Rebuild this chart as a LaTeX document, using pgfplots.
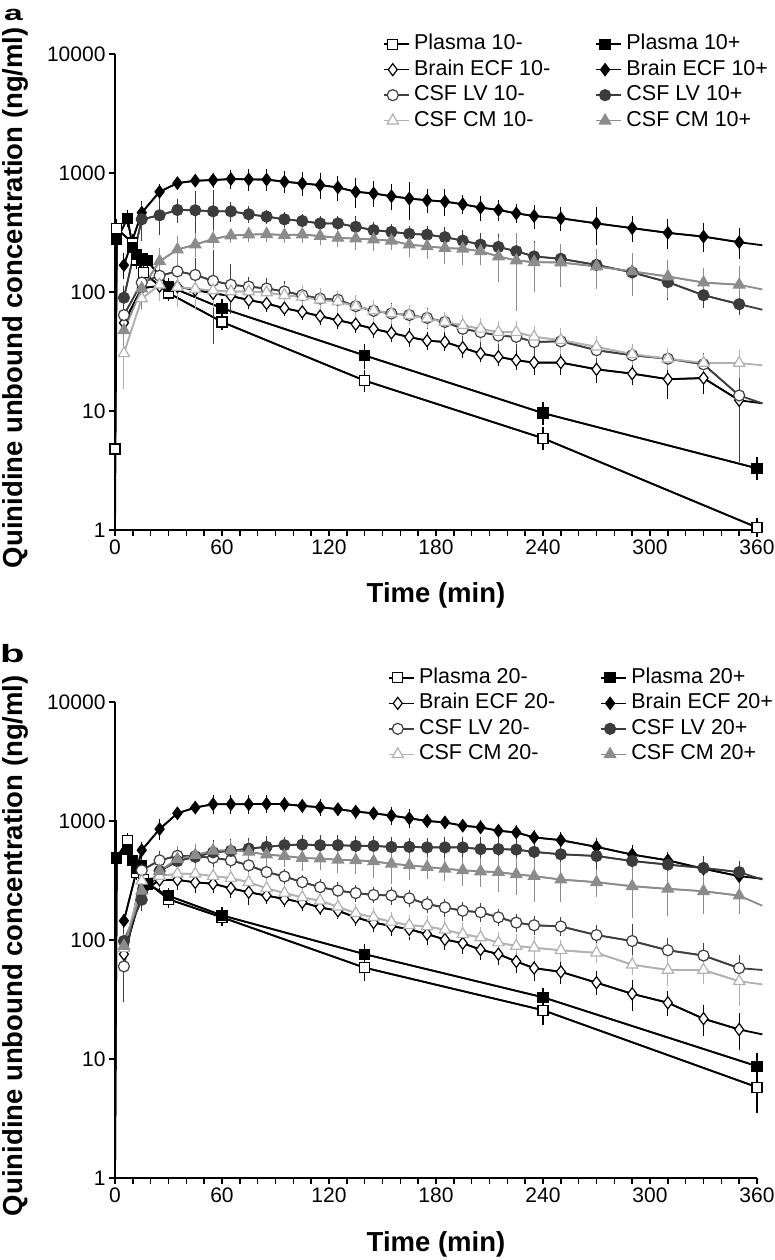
\documentclass[border=0pt]{standalone}
\usepackage{pgfplots}
\usepackage{pgfplotstable}
\pgfplotsset{compat=1.18}
\usepackage{fontspec}
\setmainfont{Liberation Sans}

\definecolor{cLVp}{HTML}{3C3C3C}
\definecolor{cLVm}{HTML}{404040}
\definecolor{cCMp}{HTML}{8C8C8C}
\definecolor{cCMm}{HTML}{B2B2B2}

% ---------------- panel a data ----------------
\pgfplotstableread{
t y e
0 4.8 0.8
1 340 40
10 258 30
12 186 20
16 145 15
30 98 8
60 56 5
140 18 2.5
240 5.9 0.9
360 1.05 0.12
}\PaM
\pgfplotstableread{
t y e
0 1 0
1 275 30
7 415 40
10 236 20
12 205 20
15 190 15
18 183 15
30 112 10
60 73 8
140 29.3 5
240 9.6 1.5
360 3.3 0.5
}\PaP
\pgfplotstableread{
t y e
5 55 10
15 108 15
25 112 15
35 111 12
45 104 10
55 97.5 10
65 92.5 9
75 85.6 8
85 80 7
95 73 6
105 68 6
115 62.6 6
125 58 6
135 53.6 5
145 49 5
155 45.3 5
165 41.8 5
175 39 4
185 38 4
195 34 4
205 30.4 3
215 28.5 3
225 26.7 3
235 25.5 4
250 25.5 4
270 22.4 4
290 20.6 3
310 18.5 5
330 18.9 4
350 12.3 5
363 11.6 0
}\BaM
\pgfplotstableread{
t y e
5 168 30
15 464 80
25 695 60
35 822 50
45 861 50
55 872 70
65 890 100
75 884 130
85 880 120
95 845 120
105 817 130
115 791 150
125 756 130
135 695 150
145 673 120
155 638 120
165 610 180
175 590 100
185 575 110
195 546 60
205 512 90
215 489 70
225 458 50
235 435 70
250 416 70
270 377 110
290 344 60
310 314 70
330 292 60
350 262 60
363 247 0
}\BaP
\pgfplotstableread{
t y e
5 64 20
15 120 25
25 137 20
35 149 60
45 139 40
55 124 85
65 115 45
75 111 15
85 107 15
95 101 15
105 94 12
115 88 10
125 86 10
135 76 12
145 69.5 10
155 66 10
165 64 8
175 60.5 8
185 56 8
195 49 8
205 46 10
215 43 8
225 42 8
235 38 8
250 38.5 8
270 32.4 5
290 29.4 4
310 27.5 4
330 24.7 4
350 13.5 9.5
363 11.6 0
}\LaM
\pgfplotstableread{
t y e
5 89.5 15
15 408 120
25 441 120
35 489 80
45 486 170
55 476 200
65 476 60
75 450 40
85 430 30
95 408 30
105 395 30
115 377 30
125 377 30
135 353 50
145 331 30
155 320 30
165 308 30
175 303 30
185 289 40
195 270 40
205 250 40
215 239 50
225 220 60
235 199 50
250 190 40
270 169 40
290 146 30
310 121 30
330 94 15
350 79 10
363 71 0
}\LaP
\pgfplotstableread{
t y e
5 30.5 14
15 88 12
25 115 25
35 110 30
45 106 30
55 103 25
65 101 15
75 101 15
85 99 12
95 94 15
105 91 15
115 86 15
125 83 12
135 76 12
145 70 10
155 66 8
165 64 8
175 60 7
185 56 7
195 52.5 7
205 49 8
215 46 7
225 46 7
235 42 6
250 39.4 7
270 34.6 5
290 30 4
310 27.5 4
330 25.3 3
350 25.3 5
363 24.2 0
}\CaM
\pgfplotstableread{
t y e
5 47.6 12
15 107 30
25 181 40
35 227 50
45 250 40
55 279 30
65 298 20
75 304 25
85 306 25
95 301 25
105 304 30
115 295 30
125 285 30
135 281 40
145 276 40
155 270 30
165 250 40
175 242 40
185 234 50
195 231 50
205 220 40
215 199 70
225 184 110
235 178 70
250 177 60
270 164 50
290 149 50
310 135 40
330 120 30
350 115 40
363 105 0
}\CaP

% ---------------- panel b data ----------------
\pgfplotstableread{
t y e
0 1 0
1 494 40
7 682 60
10 463 40
12 370 30
16 324 30
30 220 20
60 155 15
140 58.5 10
240 25.7 5
360 5.8 2
}\PbM
\pgfplotstableread{
t y e
0 1 0
1 485 460
7 580 50
10 463 40
12 398 30
15 420 30
18 295 30
30 235 20
60 161 15
140 76 10
240 33 4
360 8.7 1.8
}\PbP
\pgfplotstableread{
t y e
5 76 10
15 250 30
25 320 40
35 320 40
45 305 40
55 297 30
65 272 30
75 252 40
85 236 20
95 221 20
105 207 20
115 188 15
125 176 15
135 155 15
145 140 15
155 131 15
165 123 15
175 112 15
185 101 12
195 94 12
205 83 10
215 76 10
225 66 10
235 58 10
250 54 8
270 43.8 7
290 35.3 8
310 29.7 5
330 21.8 5
350 17.7 5
363 16.1 0
}\BbM
\pgfplotstableread{
t y e
5 145 10
15 568 60
25 855 120
35 1160 60
45 1297 80
55 1384 150
65 1384 150
75 1384 150
85 1394 150
95 1384 100
105 1340 100
115 1305 130
125 1256 80
135 1200 80
145 1160 70
155 1110 120
165 1054 120
175 1000 60
185 974 60
195 913 50
205 884 60
215 828 60
225 801 60
235 728 60
250 690 70
270 606 70
290 522 60
310 467 50
330 397 60
350 344 50
363 327 0
}\BbP
\pgfplotstableread{
t y e
5 60 28
15 385 60
25 467 60
35 510 60
45 505 60
55 490 50
65 467 40
75 424 40
85 372 30
95 342 30
105 306 25
115 278 25
125 260 25
135 248 25
145 239 20
155 237 25
165 224 20
175 200 20
185 188 20
195 176 20
205 171 20
215 155 15
225 140 15
235 133 15
250 130 15
270 110 15
290 98 30
310 82 15
330 74 15
350 58 12
363 56 0
}\LbM
\pgfplotstableread{
t y e
5 98 20
15 218 30
25 380 50
35 460 60
45 500 80
55 545 100
65 561 100
75 586 90
85 606 90
95 626 60
105 634 80
115 626 80
125 626 80
135 618 80
145 618 80
155 605 80
165 606 70
175 600 70
185 600 90
195 600 90
205 580 110
215 580 120
225 575 110
235 550 110
250 525 100
270 508 90
290 461 80
310 430 80
330 403 70
350 372 60
363 322 0
}\LbP
\pgfplotstableread{
t y e
5 85 15
15 314 40
25 345 50
35 360 50
45 360 40
55 344 40
65 331 40
75 306 40
85 272 40
95 248 30
105 228 30
115 214 30
125 190 25
135 168 20
145 155 20
155 142 20
165 133 20
175 130 20
185 122 20
195 112 20
205 105 15
215 95 15
225 89 15
235 86 15
250 82 12
270 78 10
290 62 8
310 56 12
330 56 10
350 45 15
363 42.4 0
}\CbM
\pgfplotstableread{
t y e
5 89 15
15 259 40
25 380 60
35 478 100
45 517 80
55 563 60
65 568 80
75 550 80
85 522 70
95 508 70
105 489 80
115 483 70
125 473 80
135 467 80
145 458 100
155 437 120
165 424 80
175 410 60
185 397 60
195 385 80
205 377 80
215 372 100
225 356 100
235 344 120
250 322 100
270 306 60
290 283 120
310 269 100
330 257 80
350 236 60
363 194 0
}\CbP

\pgfplotsset{
  quinpanel/.style={
    scale only axis, width=642pt, height=476pt,
    xmin=0, xmax=360, ymin=1, ymax=10000,
    clip=false,
    axis lines=left,
    axis line style={line width=2pt, -},
    xtick={0,60,...,360}, minor x tick num=5,
    ytick={1,10,100,1000,10000}, yticklabels={1,10,100,1000,10000},
    yminorticks=false,
    tick align=outside, tick pos=left,
    major tick length=6pt, minor tick length=6pt,
    tick style={line width=1.5pt, black},
    tick label style={font=\fontsize{21}{24}\selectfont, /pgf/number format/assume math mode=true},
    label style={font=\bfseries\fontsize{27.5}{32}\selectfont},
    xlabel={Time (min)},
    ylabel={Quinidine unbound concentration (ng/ml)},
    legend columns=2,
    legend cell align=left,
    legend style={anchor=north west, draw=none, fill=none,
      inner sep=0pt, outer sep=0pt,
      font=\fontsize{21.5}{24}\selectfont,
      nodes={inner sep=0pt, text height=15.5pt, text depth=4.5pt},
      row sep=5.5pt,
      /tikz/every odd column/.append style={column sep=4.5pt},
      /tikz/every even column/.append style={column sep=45pt}},
  },
  qln/.style={no marks, forget plot, line width=1.8pt, color=#1},
  qmk/.style={sharp plot, line width=1.6pt, draw=#1, fill=none,
    mark options={line width=1.2pt, draw=#1},
    error bars/y dir=both, error bars/y explicit,
    error bars/error bar style={line width=1.1pt, color=#1},
    error bars/error mark options={line width=1.1pt, mark size=3.5pt, color=#1},
    legend image code/.code={%
      \draw[mark repeat=2, mark phase=2, ##1] plot coordinates {(0pt,0pt)(9pt,0pt)(25pt,0pt)};}},
  mf/.style={/tikz/every mark/.append style={fill=#1}},
  qsq/.style={mark=square*, mark size=5pt},
  qdi/.style={mark=diamond*, mark size=6pt},
  qci/.style={mark=*, mark size=5.5pt},
  qtr/.style={mark=triangle*, mark size=6.5pt},
}

\begin{document}
\begin{tikzpicture}
\useasboundingbox (0,0) rectangle (774pt,1260pt);

% ================= panel a =================
\begin{axis}[ymode=log, quinpanel, at={(115pt,730pt)}, anchor=south west,
  legend style={at={(axis description cs:0.4174,1.0416)}},
  xlabel style={at={(axis description cs:0.5,-0.1366)}, anchor=center},
  ylabel style={at={(axis description cs:-0.1558,0.488)}, anchor=center}]
\addplot[qln=black] table[x=t,y=y]{\PaM};
\addplot[qln=black] table[x=t,y=y]{\PaP};
\addplot[qln=black] table[x=t,y=y]{\BaM};
\addplot[qln=black] table[x=t,y=y]{\BaP};
\addplot[qln=cLVm] table[x=t,y=y]{\LaM};
\addplot[qln=cLVp] table[x=t,y=y]{\LaP};
\addplot[qln=cCMm] table[x=t,y=y]{\CaM};
\addplot[qln=cCMp] table[x=t,y=y]{\CaP};

\addplot[qmk=black, qsq, mf=white] table[x=t,y=y,y error=e]{\PaM};
\addlegendentry{Plasma 10-}
\addplot[qmk=black, qsq, mf=black, skip coords between index={0}{1}] table[x=t,y=y,y error=e]{\PaP};
\addlegendentry{Plasma 10+}
\addplot[qmk=black, qdi, mf=white, skip coords between index={30}{31}] table[x=t,y=y,y error=e]{\BaM};
\addlegendentry{Brain ECF 10-}
\addplot[qmk=black, qdi, mf=black, skip coords between index={30}{31}] table[x=t,y=y,y error=e]{\BaP};
\addlegendentry{Brain ECF 10+}
\addplot[qmk=cLVm, qci, mf=white, skip coords between index={30}{31}] table[x=t,y=y,y error=e]{\LaM};
\addlegendentry{CSF LV 10-}
\addplot[qmk=cLVp, qci, mf=cLVp, skip coords between index={30}{31}] table[x=t,y=y,y error=e]{\LaP};
\addlegendentry{CSF LV 10+}
\addplot[qmk=cCMm, qtr, mf=white, skip coords between index={30}{31}] table[x=t,y=y,y error=e]{\CaM};
\addlegendentry{CSF CM 10-}
\addplot[qmk=cCMp, qtr, mf=cCMp, skip coords between index={30}{31}] table[x=t,y=y,y error=e]{\CaP};
\addlegendentry{CSF CM 10+}
\end{axis}

% ================= panel b =================
\begin{axis}[ymode=log, quinpanel, at={(115pt,82pt)}, anchor=south west,
  legend style={at={(axis description cs:0.4252,1.0718)}},
  xlabel style={at={(axis description cs:0.5,-0.139)}, anchor=center},
  ylabel style={at={(axis description cs:-0.1558,0.488)}, anchor=center}]
\addplot[qln=black] table[x=t,y=y]{\PbM};
\addplot[qln=black] table[x=t,y=y]{\PbP};
\addplot[qln=black] table[x=t,y=y]{\BbM};
\addplot[qln=black] table[x=t,y=y]{\BbP};
\addplot[qln=cLVm] table[x=t,y=y]{\LbM};
\addplot[qln=cLVp] table[x=t,y=y]{\LbP};
\addplot[qln=cCMm] table[x=t,y=y]{\CbM};
\addplot[qln=cCMp] table[x=t,y=y]{\CbP};

\addplot[qmk=black, qsq, mf=white, skip coords between index={0}{1}] table[x=t,y=y,y error=e]{\PbM};
\addlegendentry{Plasma 20-}
\addplot[qmk=black, qsq, mf=black, skip coords between index={0}{1}] table[x=t,y=y,y error=e]{\PbP};
\addlegendentry{Plasma 20+}
\addplot[qmk=black, qdi, mf=white, skip coords between index={30}{31}] table[x=t,y=y,y error=e]{\BbM};
\addlegendentry{Brain ECF 20-}
\addplot[qmk=black, qdi, mf=black, skip coords between index={30}{31}] table[x=t,y=y,y error=e]{\BbP};
\addlegendentry{Brain ECF 20+}
\addplot[qmk=cLVm, qci, mf=white, skip coords between index={30}{31}] table[x=t,y=y,y error=e]{\LbM};
\addlegendentry{CSF LV 20-}
\addplot[qmk=cLVp, qci, mf=cLVp, skip coords between index={30}{31}] table[x=t,y=y,y error=e]{\LbP};
\addlegendentry{CSF LV 20+}
\addplot[qmk=cCMm, qtr, mf=white, skip coords between index={30}{31}] table[x=t,y=y,y error=e]{\CbM};
\addlegendentry{CSF CM 20-}
\addplot[qmk=cCMp, qtr, mf=cCMp, skip coords between index={30}{31}] table[x=t,y=y,y error=e]{\CbP};
\addlegendentry{CSF CM 20+}
\end{axis}

\node[anchor=base west, inner sep=0pt, font=\bfseries\fontsize{21}{24}\selectfont] at (4pt,1239pt) {\scalebox{1.6}[1]{a}};
\node[anchor=base west, inner sep=0pt, font=\bfseries\fontsize{25}{28}\selectfont] at (0pt,597pt) {\scalebox{1.6}[1]{b}};
\end{tikzpicture}
\end{document}
